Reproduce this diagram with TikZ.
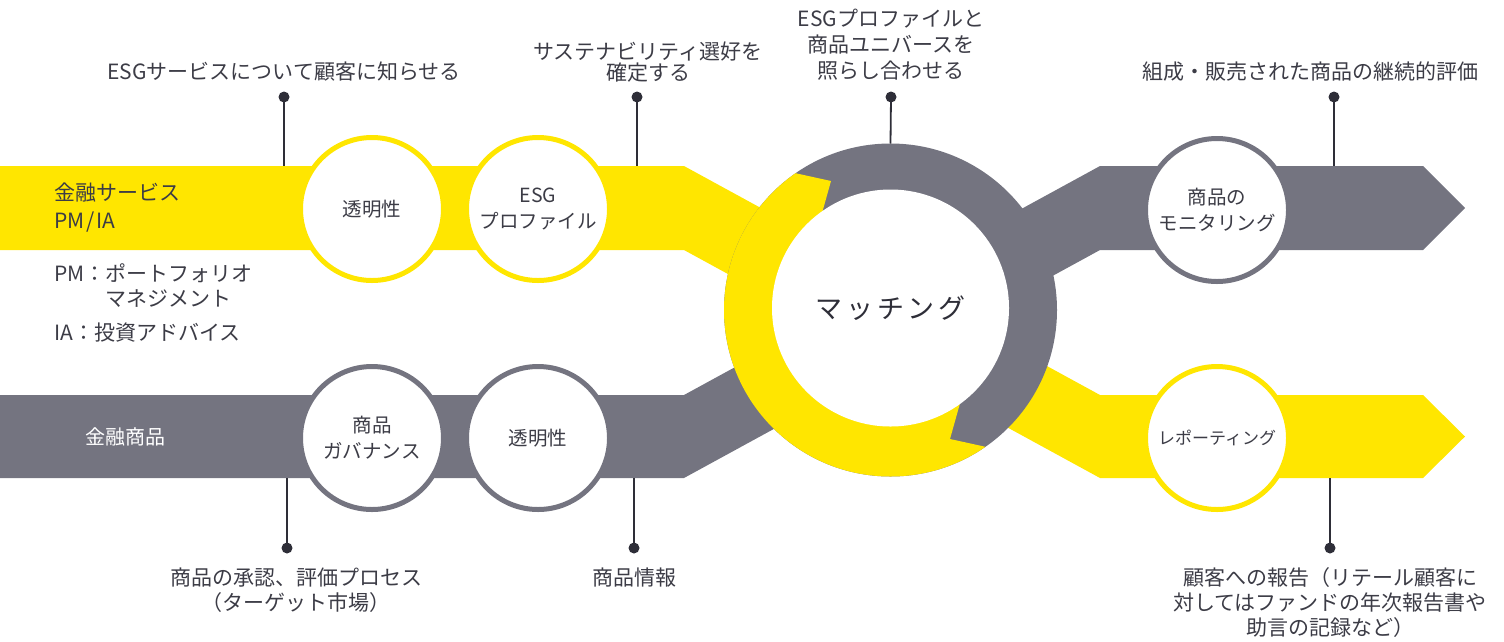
\documentclass[tikz,border=0pt]{standalone}
\usepackage{fontspec}
\setmainfont{Noto Sans CJK JP}
\definecolor{eyy}{HTML}{FFE600}
\definecolor{eyg}{HTML}{747480}
\definecolor{txt}{HTML}{3C3C46}
\definecolor{lnk}{HTML}{2E2E38}
\begin{document}
\begin{tikzpicture}[x=1pt,y=-1pt,
  callout/.style={font=\fontsize{21}{25}\selectfont, text=txt, align=center, inner sep=0pt},
  stage/.style={circle, fill=white, draw=#1, line width=5pt, minimum size=143pt, inner sep=0pt, align=center, font=\fontsize{19.5}{26}\selectfont, text=txt},
  lead/.style={draw=lnk, line width=1.8pt},
  dotmark/.style={circle, fill=lnk, inner sep=0pt, minimum size=11pt},
  lefttext/.style={font=\fontsize{21}{25}\selectfont, text=txt, anchor=west, inner sep=0pt, align=left},
]
\useasboundingbox (0,0) rectangle (1504,641);

% bands
\fill[eyy] (0,166) -- (684,166) -- (814,237) -- (814,321) -- (684,250) -- (0,250) -- cycle;
\fill[eyg] (0,395) -- (684,395) -- (814,324) -- (814,407) -- (684,478) -- (0,478) -- cycle;
\fill[eyg] (970,237) -- (1100,166) -- (1423,166) -- (1465,208) -- (1423,250) -- (1100,250) -- (970,321) -- cycle;
\fill[eyy] (970,324) -- (1100,395) -- (1423,395) -- (1465,436.5) -- (1423,478) -- (1100,478) -- (970,407) -- cycle;

% central ring
\fill[eyg] (890.5,310) circle (166.5pt);
\begin{scope}
  \clip (810,256) -- (831,181) -- (740,161) -- (620,100) -- (620,520) -- (1100,520) -- (1041,459) -- (950,439) -- (971,364) -- cycle;
  \fill[eyy] (890.5,310) circle (166.5pt);
\end{scope}
\node[circle, fill=white, minimum size=237pt, inner sep=0pt, font=\fontsize{27}{30}\selectfont, text=lnk] (match) at (890.5,308) {マ\kern4ptッ\kern4ptチ\kern4ptン\kern4ptグ};
\coordinate (ringtop) at (890.5,143.5);

% stage circles
\node[stage=eyy] (transp1) at (372,209) {透明性};
\node[stage=eyy] (esgp) at (538,209) {ESG\\プロファイル};
\node[stage=eyg] (govern) at (372,438) {商品\\ガバナンス};
\node[stage=eyg] (transp2) at (538,438) {透明性};
\node[stage=eyg] (monit) at (1217,210) {商品の\\モニタリング};
\node[stage=eyy, font=\fontsize{17}{22}\selectfont] (report) at (1217,438) {レポーティング};

% left texts
\node[lefttext] (fs) at (54,193) {金融サービス};
\node[lefttext] (pmia) at (54,222) {PM\kern2pt/\kern2ptIA};
\node[lefttext] (pmdef) at (54,286) {PM：ポートフォリオ\\\phantom{PM：}マネジメント};
\node[lefttext] (iadef) at (54,333) {IA：投資アドバイス};
\node[font=\fontsize{20}{25}\selectfont, text=white, inner sep=0pt] (fp) at (125,437) {金融商品};

% band anchor points for leads
\coordinate (b1) at (284,166);
\coordinate (b2) at (637,166);
\coordinate (b4) at (1334,166);
\coordinate (b5) at (287,478);
\coordinate (b6) at (634,478);
\coordinate (b7) at (1330,478);

% top callouts
\node[callout] (c1) at (284,72) {ESGサービスについて顧客に知らせる};
\node[callout, font=\fontsize{21}{21}\selectfont] (c2) at (648,62) {サステナビリティ選好を\\確定する};
\node[callout, font=\fontsize{21}{26}\selectfont] (c3) at (891,45) {ESGプロファイルと\\商品ユニバースを\\照らし合わせる};
\node[callout] (c4) at (1310,72) {組成・販売された商品の継続的評価};
\node[dotmark] (d1) at (284,97) {};
\node[dotmark] (d2) at (637,97) {};
\node[dotmark] (d3) at (891,97) {};
\node[dotmark] (d4) at (1334,97) {};
\draw[lead] (d1.center) -- (b1);
\draw[lead] (d2.center) -- (b2);
\draw[lead] (d3.center) -- (ringtop);
\draw[lead] (d4.center) -- (b4);

% bottom callouts
\node[callout] (c5) at (296,590.5) {商品の承認、評価プロセス\\（ターゲット市場）};
\node[callout] (c6) at (634,578) {商品情報};
\node[callout] (c7) at (1330,603) {顧客への報告（リテール顧客に\\対してはファンドの年次報告書や\\助言の記録など）};
\node[dotmark] (d5) at (287,548) {};
\node[dotmark] (d6) at (634,548) {};
\node[dotmark] (d7) at (1330,548) {};
\draw[lead] (b5) -- (d5.center);
\draw[lead] (b6) -- (d6.center);
\draw[lead] (b7) -- (d7.center);
\end{tikzpicture}
\end{document}
